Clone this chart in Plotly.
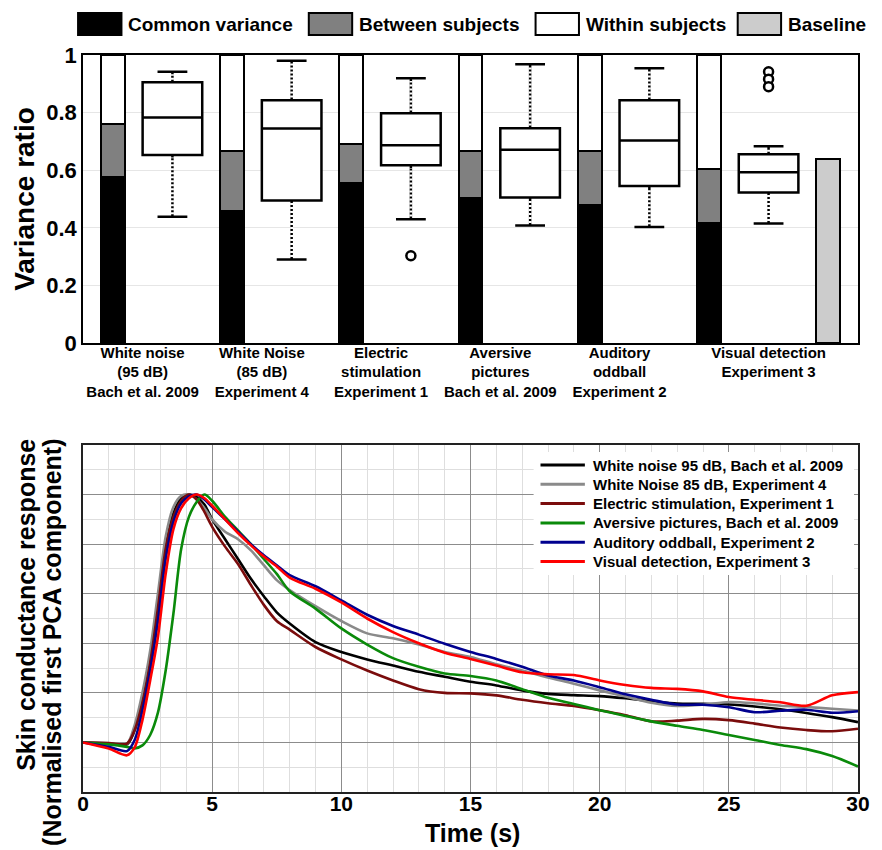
import plotly.graph_objects as go

# ---------------- data: top panel ----------------
categories = [
    "White noise<br>(95 dB)<br>Bach et al. 2009",
    "White Noise<br>(85 dB)<br>Experiment 4",
    "Electric<br>stimulation<br>Experiment 1",
    "Aversive<br>pictures<br>Bach et al. 2009",
    "Auditory<br>oddball<br>Experiment 2",
    "Visual detection<br>Experiment 3",
]
common_variance = [0.578, 0.457, 0.557, 0.505, 0.480, 0.416]
between_top = [0.760, 0.665, 0.691, 0.667, 0.667, 0.605]
baseline_ratio = 0.639

box_upper = [0.942, 0.980, 0.919, 0.968, 0.954, 0.683]
box_q3 = [0.905, 0.843, 0.798, 0.746, 0.843, 0.655]
box_median = [0.783, 0.745, 0.687, 0.671, 0.703, 0.593]
box_q1 = [0.653, 0.495, 0.617, 0.505, 0.545, 0.523]
box_lower = [0.438, 0.290, 0.430, 0.408, 0.403, 0.415]
outlier_group = [2, 5, 5, 5]
outlier_value = [0.303, 0.942, 0.916, 0.890]

legend_top = ["Common variance", "Between subjects", "Within subjects", "Baseline"]

# ---------------- data: bottom panel ----------------
time_s = [0, 1, 1.7, 2.0, 2.3, 2.6, 2.9, 3.2, 3.5, 3.8,
          4.1, 4.4, 4.7, 5.0, 5.5, 6, 6.5, 7, 7.5, 8,
          9, 10, 11, 12, 13, 14, 15, 16, 17, 18, 19, 20, 21, 22, 23, 24, 25, 26, 27, 28, 29, 30]

white_noise_95 = [0, -0.004, -0.008, 0.05, 0.17, 0.33, 0.55, 0.80, 0.925, 0.985,
                  1.0, 0.99, 0.96, 0.90, 0.82, 0.74, 0.66, 0.59, 0.525, 0.48,
                  0.405, 0.365, 0.335, 0.31, 0.285, 0.265, 0.245, 0.23, 0.21, 0.196, 0.191,
                  0.187, 0.178, 0.167, 0.157, 0.156, 0.153, 0.145, 0.134, 0.119, 0.102, 0.082]
white_noise_85 = [0, -0.004, -0.005, 0.07, 0.20, 0.37, 0.60, 0.83, 0.95, 0.995,
                  1.0, 0.98, 0.945, 0.90, 0.85, 0.82, 0.775, 0.715, 0.655, 0.615,
                  0.55, 0.49, 0.44, 0.42, 0.395, 0.365, 0.345, 0.315, 0.29, 0.262, 0.237,
                  0.21, 0.185, 0.16, 0.147, 0.152, 0.163, 0.158, 0.148, 0.143, 0.136, 0.129]
electric = [0, -0.003, -0.005, 0.05, 0.16, 0.32, 0.54, 0.78, 0.91, 0.975,
            1.0, 0.98, 0.93, 0.87, 0.79, 0.72, 0.635, 0.555, 0.49, 0.455,
            0.385, 0.335, 0.29, 0.25, 0.215, 0.20, 0.198, 0.19, 0.172, 0.158, 0.147,
            0.13, 0.11, 0.085, 0.088, 0.095, 0.09, 0.076, 0.06, 0.05, 0.045, 0.055]
aversive = [0, -0.008, -0.018, -0.024, -0.012, 0.03, 0.12, 0.29, 0.52, 0.78,
            0.91, 0.97, 1.0, 0.975, 0.91, 0.855, 0.80, 0.74, 0.68, 0.61,
            0.54, 0.46, 0.395, 0.34, 0.305, 0.278, 0.268, 0.25, 0.215, 0.18, 0.155,
            0.13, 0.107, 0.085, 0.067, 0.05, 0.03, 0.01, -0.01, -0.027, -0.055, -0.097]
oddball = [0, -0.018, -0.035, 0.01, 0.13, 0.29, 0.49, 0.74, 0.89, 0.965,
           0.993, 1.0, 0.98, 0.95, 0.90, 0.85, 0.80, 0.755, 0.715, 0.675,
           0.63, 0.573, 0.515, 0.47, 0.435, 0.398, 0.365, 0.337, 0.305, 0.27, 0.25,
           0.223, 0.194, 0.172, 0.153, 0.152, 0.142, 0.122, 0.128, 0.132, 0.12, 0.126]
visual = [0, -0.025, -0.052, -0.02, 0.09, 0.25, 0.425, 0.68, 0.86, 0.945,
          0.985, 1.0, 0.985, 0.955, 0.90, 0.845, 0.795, 0.75, 0.71, 0.665,
          0.62, 0.565, 0.50, 0.445, 0.40, 0.362, 0.337, 0.31, 0.283, 0.275, 0.272,
          0.25, 0.232, 0.22, 0.216, 0.206, 0.183, 0.172, 0.162, 0.148, 0.19, 0.203]

series_names = [
    "White noise 95 dB, Bach et al. 2009",
    "White Noise 85 dB, Experiment 4",
    "Electric stimulation, Experiment 1",
    "Aversive pictures, Bach et al. 2009",
    "Auditory oddball, Experiment 2",
    "Visual detection, Experiment 3",
]
series_values = [white_noise_95, white_noise_85, electric, aversive, oddball, visual]
series_colors = ["#000000", "#8a8a8a", "#7a0c0c", "#0a8a0a", "#00008f", "#ff0000"]

# ---------------- layout helpers ----------------
# page body has an 8px margin, so the figure is drawn 8px smaller
FONT = "Liberation Sans, Arial, sans-serif"
OFF = 8
W_FIG, H_FIG = 882 - OFF, 850 - OFF
REF_LEFT, REF_RIGHT, REF_TOP, REF_BOTTOM = 83, 869, 55, 792   # plot edges in screenshot pixels
L = REF_LEFT - OFF
R = W_FIG - (REF_RIGHT - OFF)
T = REF_TOP - OFF
B = H_FIG - (REF_BOTTOM - OFF)
PW, PH = W_FIG - L - R, H_FIG - T - B


def pxx(px):
    return (px - REF_LEFT) / PW


def pxy(py):
    return (REF_BOTTOM - py) / PH


fig = go.Figure()

n = len(categories)
bar_x = [i - 0.5 for i in range(n)]
box_x = list(range(n))
between = [b - c for b, c in zip(between_top, common_variance)]
within = [1 - b for b in between_top]

bar_line = dict(color="black", width=2.5)
for vals, col in [(common_variance, "black"), (between, "#808080"), (within, "white")]:
    fig.add_trace(go.Bar(x=bar_x, y=vals, width=0.2, marker=dict(color=col, line=bar_line),
                         showlegend=False, xaxis="x", yaxis="y", hoverinfo="skip"))
fig.add_trace(go.Bar(x=[n - 0.5], y=[baseline_ratio], width=0.2,
                     marker=dict(color="#cccccc", line=bar_line),
                     showlegend=False, xaxis="x", yaxis="y"))

fig.add_trace(go.Box(x=box_x, q1=box_q1, median=box_median, q3=box_q3,
                     lowerfence=box_lower, upperfence=box_upper, width=0.5,
                     fillcolor="white", line=dict(color="black", width=2.5),
                     whiskerwidth=0.5, boxpoints=False, showlegend=False,
                     xaxis="x", yaxis="y"))

# dotted look for whiskers: white dashes over the black whisker lines
eps = 0.009
wx, wy = [], []
for i in range(n):
    wx += [box_x[i], box_x[i], None, box_x[i], box_x[i], None]
    wy += [box_q3[i] + eps, box_upper[i] - eps, None, box_lower[i] + eps, box_q1[i] - eps, None]
fig.add_trace(go.Scatter(x=wx, y=wy, mode="lines", line=dict(color="white", width=3, dash="2px,2px"),
                         showlegend=False, xaxis="x", yaxis="y", hoverinfo="skip"))

fig.add_trace(go.Scatter(x=[box_x[g] for g in outlier_group], y=outlier_value, mode="markers",
                         marker=dict(symbol="circle", size=9, color="white",
                                     line=dict(color="black", width=2.5)),
                         showlegend=False, xaxis="x", yaxis="y"))

for name, vals, col in zip(series_names, series_values, series_colors):
    fig.add_trace(go.Scatter(x=time_s, y=vals, name=name, mode="lines",
                             line=dict(color=col, width=2.6, shape="spline", smoothing=0.8),
                             showlegend=False, xaxis="x2", yaxis="y2"))

label_pos = [i - 0.25 for i in range(n - 1)] + [n - 1]

top_domain = [pxy(343), 1.0]
bot_domain = [0.0, pxy(445)]

fig.update_layout(
    width=W_FIG, height=H_FIG,
    margin=dict(l=L, r=R, t=T, b=B),
    paper_bgcolor="white", plot_bgcolor="white",
    font=dict(family=FONT, color="black"),
    barmode="stack", bargap=0,
    showlegend=False,
    xaxis=dict(domain=[0, 1], anchor="y", range=[-0.75, 5.75], tickmode="array",
               tickvals=label_pos, ticktext=categories, ticks="", showgrid=False,
               zeroline=False, showline=True, linecolor="black", linewidth=1.5, mirror=True,
               ticklabelstandoff=-5,
               tickfont=dict(size=15, weight="bold", family=FONT)),
    yaxis=dict(domain=top_domain, anchor="x", range=[0, 1], dtick=0.2, tick0=0,
               showgrid=True, gridcolor="#e6e6e6", gridwidth=1, zeroline=False,
               showline=True, linecolor="black", linewidth=1.5, mirror=True, ticks="",
               tickfont=dict(size=22, weight="bold", family=FONT)),
    xaxis2=dict(domain=[0, 1], anchor="y2", range=[0, 30], dtick=5, tick0=0,
                showgrid=True, gridcolor="#8c8c8c", gridwidth=1, zeroline=False,
                minor=dict(dtick=1, showgrid=True, gridcolor="#dedede", gridwidth=1),
                showline=True, linecolor="#222222", linewidth=1.5, mirror=True, ticks="",
                ticklabelstandoff=-8,
                tickfont=dict(size=21, weight="bold", family=FONT)),
    yaxis2=dict(domain=bot_domain, anchor="x2", range=[-0.2, 1.2], dtick=0.2, tick0=0,
                showgrid=True, gridcolor="#8c8c8c", gridwidth=1, zeroline=False,
                minor=dict(dtick=0.1, showgrid=True, gridcolor="#dedede", gridwidth=1),
                showline=True, linecolor="#222222", linewidth=1.5, mirror=True,
                showticklabels=False, ticks=""),
)

shapes = []
annotations = []

# ---- custom top legend (large swatches) ----
swatch_colors = ["black", "#808080", "white", "#cccccc"]
swatch_left = [78, 312, 542, 747]
for lab, col, x0 in zip(legend_top, swatch_colors, swatch_left):
    shapes.append(dict(type="rect", xref="paper", yref="paper",
                       x0=pxx(x0), x1=pxx(x0 + 44), y0=pxy(35), y1=pxy(13),
                       fillcolor=col, line=dict(color="black", width=2)))
    annotations.append(dict(text=lab, xref="paper", yref="paper", x=pxx(x0 + 49), y=pxy(24),
                            xanchor="left", yanchor="middle", showarrow=False,
                            font=dict(size=19, weight="bold", family=FONT, color="black")))

# ---- legend of the lower panel ----
shapes.append(dict(type="rect", xref="paper", yref="paper", x0=pxx(540), x1=pxx(865),
                   y0=pxy(575), y1=pxy(452), fillcolor="white", line=dict(width=0), layer="above"))
row_y0, row_step = 465, 19.3
for k, (name, col) in enumerate(zip(series_names, series_colors)):
    ry = row_y0 + k * row_step
    shapes.append(dict(type="line", xref="paper", yref="paper", x0=pxx(547), x1=pxx(592),
                       y0=pxy(ry), y1=pxy(ry), line=dict(color=col, width=3), layer="above"))
    annotations.append(dict(text=name, xref="paper", yref="paper", x=pxx(598), y=pxy(ry),
                            xanchor="left", yanchor="middle", showarrow=False,
                            font=dict(size=15, weight="bold", family=FONT, color="black")))

# axis titles
annotations.append(dict(text="Variance ratio", xref="paper", yref="paper",
                        x=pxx(23), y=pxy(199), textangle=-90, xanchor="center", yanchor="middle",
                        showarrow=False, font=dict(size=28, weight="bold", family=FONT)))
annotations.append(dict(text="Skin conductance response", xref="paper", yref="paper",
                        x=pxx(25), y=pxy(437), textangle=-90, xanchor="center", yanchor="top",
                        showarrow=False, font=dict(size=25, weight="bold", family=FONT)))
annotations.append(dict(text="(Normalised first PCA component)", xref="paper", yref="paper",
                        x=pxx(51), y=pxy(437), textangle=-90, xanchor="center", yanchor="top",
                        showarrow=False, font=dict(size=25, weight="bold", family=FONT)))
annotations.append(dict(text="Time (s)", xref="paper", yref="paper",
                        x=pxx(478), y=pxy(833), xanchor="center", yanchor="middle",
                        showarrow=False, font=dict(size=25, weight="bold", family=FONT)))

fig.update_layout(shapes=shapes, annotations=annotations)

fig.write_html("out.html")
